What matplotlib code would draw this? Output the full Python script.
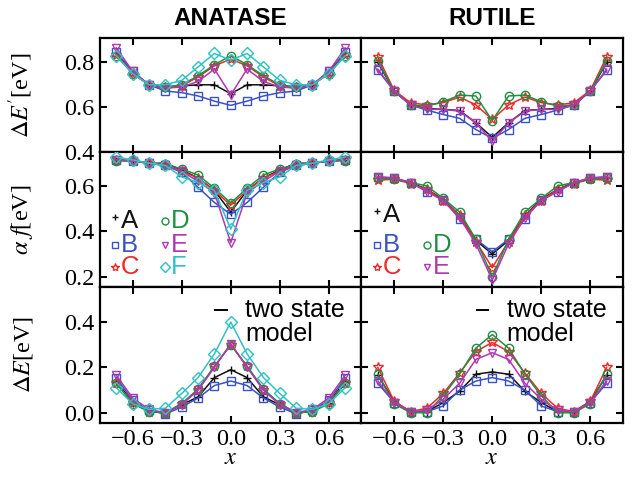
import matplotlib
matplotlib.use("Agg")
import matplotlib.pyplot as plt
import numpy as np

plt.rcParams['font.family'] = ['Liberation Serif', 'DejaVu Serif']
plt.rcParams['mathtext.fontset'] = 'stix'

x = [-0.7, -0.6, -0.5, -0.4, -0.3, -0.2, -0.1, 0.0, 0.1, 0.2, 0.3, 0.4, 0.5, 0.6, 0.7]

# ---- ANATASE ----
ana_dEp_A = [0.84, 0.755, 0.70, 0.685, 0.695, 0.70, 0.70, 0.66, 0.70, 0.70, 0.695, 0.685, 0.70, 0.755, 0.84]
ana_dEp_B = [0.845, 0.76, 0.70, 0.672, 0.665, 0.65, 0.627, 0.608, 0.627, 0.65, 0.665, 0.672, 0.70, 0.76, 0.845]
ana_dEp_C = [0.835, 0.75, 0.70, 0.69, 0.695, 0.735, 0.785, 0.815, 0.785, 0.735, 0.695, 0.69, 0.70, 0.75, 0.835]
ana_dEp_D = [0.83, 0.75, 0.70, 0.69, 0.70, 0.74, 0.79, 0.83, 0.79, 0.74, 0.70, 0.69, 0.70, 0.75, 0.83]
ana_dEp_E = [0.865, 0.76, 0.70, 0.685, 0.69, 0.715, 0.77, 0.655, 0.77, 0.715, 0.69, 0.685, 0.70, 0.76, 0.865]
ana_dEp_F = [0.83, 0.75, 0.70, 0.70, 0.72, 0.78, 0.84, 0.81, 0.84, 0.78, 0.72, 0.70, 0.70, 0.75, 0.83]

ana_af_A = [0.715, 0.71, 0.70, 0.70, 0.67, 0.635, 0.58, 0.485, 0.58, 0.635, 0.67, 0.70, 0.70, 0.71, 0.715]
ana_af_B = [0.715, 0.71, 0.70, 0.69, 0.66, 0.594, 0.527, 0.475, 0.527, 0.594, 0.66, 0.69, 0.70, 0.71, 0.715]
ana_af_C = [0.715, 0.71, 0.70, 0.69, 0.665, 0.635, 0.58, 0.515, 0.58, 0.635, 0.665, 0.69, 0.70, 0.71, 0.715]
ana_af_D = [0.71, 0.71, 0.70, 0.695, 0.675, 0.648, 0.59, 0.525, 0.59, 0.648, 0.675, 0.695, 0.70, 0.71, 0.71]
ana_af_E = [0.715, 0.71, 0.70, 0.69, 0.665, 0.62, 0.57, 0.35, 0.57, 0.62, 0.665, 0.69, 0.70, 0.71, 0.715]
ana_af_F = [0.727, 0.715, 0.70, 0.69, 0.64, 0.615, 0.58, 0.41, 0.58, 0.615, 0.64, 0.69, 0.70, 0.715, 0.727]

ana_dE_A = [0.14, 0.045, 0.005, 0.0, 0.035, 0.07, 0.155, 0.19, 0.155, 0.07, 0.035, 0.0, 0.005, 0.045, 0.14]
ana_dE_B = [0.153, 0.055, 0.01, -0.005, 0.025, 0.065, 0.12, 0.14, 0.12, 0.065, 0.025, -0.005, 0.01, 0.055, 0.153]
ana_dE_C = [0.13, 0.045, 0.005, 0.0, 0.04, 0.10, 0.205, 0.30, 0.205, 0.10, 0.04, 0.0, 0.005, 0.045, 0.13]
ana_dE_D = [0.13, 0.04, 0.005, 0.0, 0.04, 0.105, 0.205, 0.30, 0.205, 0.105, 0.04, 0.0, 0.005, 0.04, 0.13]
ana_dE_E = [0.165, 0.065, 0.015, 0.0, 0.035, 0.10, 0.20, 0.305, 0.20, 0.10, 0.035, 0.0, 0.015, 0.065, 0.165]
ana_dE_F = [0.11, 0.04, 0.015, 0.02, 0.085, 0.155, 0.26, 0.40, 0.26, 0.155, 0.085, 0.02, 0.015, 0.04, 0.11]

# ---- RUTILE ----
rut_dEp_A = [0.80, 0.672, 0.61, 0.594, 0.59, 0.585, 0.53, 0.465, 0.53, 0.585, 0.59, 0.594, 0.61, 0.672, 0.80]
rut_dEp_B = [0.765, 0.672, 0.61, 0.587, 0.567, 0.55, 0.50, 0.46, 0.50, 0.55, 0.567, 0.587, 0.61, 0.672, 0.765]
rut_dEp_C = [0.825, 0.675, 0.62, 0.61, 0.62, 0.645, 0.61, 0.545, 0.61, 0.645, 0.62, 0.61, 0.62, 0.675, 0.825]
rut_dEp_D = [0.807, 0.672, 0.61, 0.605, 0.624, 0.654, 0.65, 0.54, 0.65, 0.654, 0.624, 0.605, 0.61, 0.672, 0.807]
rut_dEp_E = [0.77, 0.672, 0.61, 0.59, 0.59, 0.582, 0.53, 0.447, 0.53, 0.582, 0.59, 0.59, 0.61, 0.672, 0.77]

rut_af_A = [0.635, 0.63, 0.615, 0.585, 0.54, 0.47, 0.36, 0.30, 0.36, 0.47, 0.54, 0.585, 0.615, 0.63, 0.635]
rut_af_B = [0.64, 0.635, 0.615, 0.575, 0.54, 0.455, 0.365, 0.31, 0.365, 0.455, 0.54, 0.575, 0.615, 0.635, 0.64]
rut_af_C = [0.625, 0.63, 0.61, 0.585, 0.535, 0.47, 0.355, 0.24, 0.355, 0.47, 0.535, 0.585, 0.61, 0.63, 0.625]
rut_af_D = [0.635, 0.63, 0.615, 0.60, 0.545, 0.485, 0.365, 0.20, 0.365, 0.485, 0.545, 0.60, 0.615, 0.63, 0.635]
rut_af_E = [0.64, 0.635, 0.615, 0.575, 0.535, 0.46, 0.345, 0.185, 0.345, 0.46, 0.535, 0.575, 0.615, 0.635, 0.64]

rut_dE_A = [0.165, 0.05, 0.005, 0.005, 0.045, 0.095, 0.17, 0.18, 0.17, 0.095, 0.045, 0.005, 0.005, 0.05, 0.165]
rut_dE_B = [0.13, 0.045, 0.005, 0.005, 0.03, 0.10, 0.14, 0.155, 0.14, 0.10, 0.03, 0.005, 0.005, 0.045, 0.13]
rut_dE_C = [0.20, 0.05, 0.005, 0.02, 0.085, 0.175, 0.27, 0.31, 0.27, 0.175, 0.085, 0.02, 0.005, 0.05, 0.20]
rut_dE_D = [0.17, 0.04, 0.0, 0.0, 0.075, 0.17, 0.285, 0.345, 0.285, 0.17, 0.075, 0.0, 0.0, 0.04, 0.17]
rut_dE_E = [0.14, 0.045, 0.005, 0.01, 0.06, 0.13, 0.235, 0.265, 0.235, 0.13, 0.06, 0.01, 0.005, 0.045, 0.14]

labels = ['A', 'B', 'C', 'D', 'E', 'F']
colors = {'A': '#111111', 'B': '#3a52c4', 'C': '#f02828', 'D': '#1e9040', 'E': '#b038b0', 'F': '#2ec2c6'}
markers = {'A': '+', 'B': 's', 'C': '*', 'D': 'o', 'E': 'v', 'F': 'D'}
msizes = {'A': 6, 'B': 6, 'C': 7, 'D': 6, 'E': 6, 'F': 6.5}

col_titles = ['ANATASE', 'RUTILE']
row_ylabels = [r'$\Delta E^{\prime}$[eV]', r'$\alpha\ f$[eV]', r'$\Delta E$[eV]']
xticks = [-0.6, -0.3, 0.0, 0.3, 0.6]
xtick_labels = ['\u22120.6', '\u22120.3', '0.0', '0.3', '0.6']
row_yticks = [[0.4, 0.6, 0.8], [0.2, 0.4, 0.6], [0.0, 0.2, 0.4]]
row_ylims = [(0.4, 0.91), (0.155, 0.75), (-0.045, 0.555)]

data = [
    [
        {'A': ana_dEp_A, 'B': ana_dEp_B, 'C': ana_dEp_C, 'D': ana_dEp_D, 'E': ana_dEp_E, 'F': ana_dEp_F},
        {'A': rut_dEp_A, 'B': rut_dEp_B, 'C': rut_dEp_C, 'D': rut_dEp_D, 'E': rut_dEp_E},
    ],
    [
        {'A': ana_af_A, 'B': ana_af_B, 'C': ana_af_C, 'D': ana_af_D, 'E': ana_af_E, 'F': ana_af_F},
        {'A': rut_af_A, 'B': rut_af_B, 'C': rut_af_C, 'D': rut_af_D, 'E': rut_af_E},
    ],
    [
        {'A': ana_dE_A, 'B': ana_dE_B, 'C': ana_dE_C, 'D': ana_dE_D, 'E': ana_dE_E, 'F': ana_dE_F},
        {'A': rut_dE_A, 'B': rut_dE_B, 'C': rut_dE_C, 'D': rut_dE_D, 'E': rut_dE_E},
    ],
]

fig = plt.figure(figsize=(6.37, 4.79), dpi=100)
gs = fig.add_gridspec(3, 2, left=0.157, right=0.978, top=0.921, bottom=0.117,
                      height_ratios=[114, 135, 136], hspace=0, wspace=0)

sans = ['Liberation Sans', 'DejaVu Sans']

for r in range(3):
    for c in range(2):
        ax = fig.add_subplot(gs[r, c])
        d = data[r][c]
        for lab in labels:
            if lab not in d:
                continue
            ax.plot(x, d[lab], color=colors[lab], lw=1.1, marker=markers[lab],
                    ms=msizes[lab], mfc='none', mec=colors[lab], mew=1.0, zorder=3)
        ax.set_xlim(-0.8, 0.8)
        ax.set_ylim(*row_ylims[r])
        ax.set_xticks(xticks)
        ax.set_yticks(row_yticks[r])
        ax.tick_params(direction='in', length=5, width=1.5, top=True, right=True,
                       labelsize=17.5, pad=4)
        for s in ax.spines.values():
            s.set_linewidth(1.6)
        if r == 2:
            ax.set_xticklabels(xtick_labels)
            ax.set_xlabel(r'$x$', fontsize=17.5, labelpad=-1)
        else:
            ax.set_xticklabels([])
        if c == 0:
            ax.set_ylabel(row_ylabels[r], fontsize=17.5)
            ax.yaxis.set_label_coords(-0.25, 0.5)
        else:
            ax.set_yticklabels([])
        if r == 0:
            ax.set_title(col_titles[c], fontsize=17.5, fontweight='bold',
                         family=sans, pad=9)
        if r == 1:
            # in-panel legend
            if c == 0:
                layout = [('A', 0, 0.49), ('B', 0, 0.31), ('C', 0, 0.15),
                          ('D', 1, 0.49), ('E', 1, 0.31), ('F', 1, 0.15)]
                xm = [0.057, 0.25]
            else:
                layout = [('A', 0, 0.53), ('B', 0, 0.31), ('C', 0, 0.15),
                          ('D', 1, 0.31), ('E', 1, 0.15)]
                xm = [0.06, 0.25]
            for lab, col, yy in layout:
                ax.plot([xm[col]], [yy + (0.03 if lab == 'A' else 0)], transform=ax.transAxes,
                        marker=markers[lab], ms=msizes[lab] - 1, mfc='none',
                        mec=colors[lab], mew=1.0, ls='none', clip_on=False)
                ax.text(xm[col] + 0.022, yy, lab, transform=ax.transAxes,
                        color=colors[lab], fontsize=18.5, family=sans,
                        ha='left', va='center')
        if r == 2:
            ax.plot([0.44, 0.485], [0.83, 0.83], transform=ax.transAxes,
                    color='black', lw=1.4, clip_on=False)
            ax.text(0.555, 0.83, 'two state', transform=ax.transAxes,
                    fontsize=18, family=sans, ha='left', va='center', zorder=5)
            ax.text(0.555, 0.655, 'model', transform=ax.transAxes,
                    fontsize=18, family=sans, ha='left', va='center', zorder=5)

fig.savefig('out.png', dpi=100)
